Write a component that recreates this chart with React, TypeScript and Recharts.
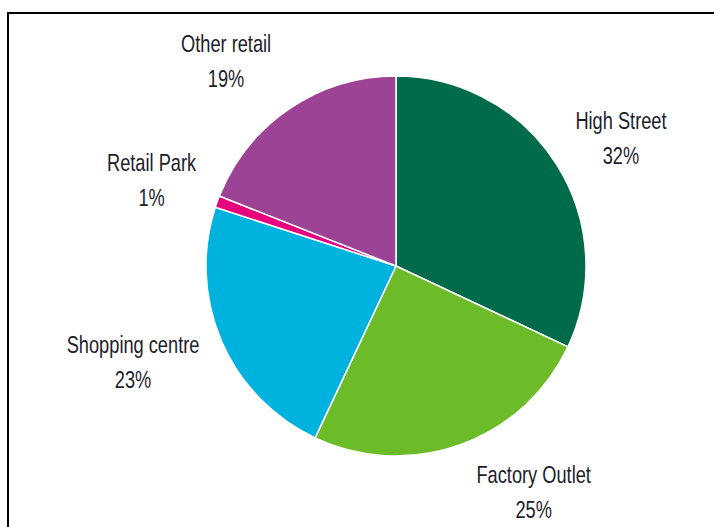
import React from 'react';
import { PieChart, Pie, Cell } from 'recharts';

const CATEGORIES = ['High Street', 'Factory Outlet', 'Shopping centre', 'Retail Park', 'Other retail'];
const SHARES = [32, 25, 23, 1, 19];
const COLORS = ['#006B4A', '#6CBB28', '#00B2DE', '#E5007D', '#9D4395'];

// label placement: angle nudge (deg, clockwise) and distance from centre
const LABEL_NUDGE: Record<string, [number, number]> = {
  'High Street': [2.7, 259],
  'Factory Outlet': [-11.5, 265],
  'Shopping centre': [3.3, 280],
  'Retail Park': [-0.5, 259],
  'Other retail': [-5.5, 266],
};

const data = CATEGORIES.map((name, i) => ({ name, value: SHARES[i] }));

const RAD = Math.PI / 180;

const renderLabel = (props: any) => {
  const { cx, cy, midAngle, name, value } = props;
  const [dA, r] = LABEL_NUDGE[name] ?? [0, 262];
  const theta = (90 - midAngle + dA) * RAD; // clockwise from 12 o'clock
  const x = cx + r * Math.sin(theta);
  const y = cy - r * Math.cos(theta);
  return (
    <text
      transform={`translate(${x},${y}) scale(0.76,1)`}
      textAnchor="middle"
      fill="#1d1d2b"
      fontFamily="'Liberation Sans', Arial, sans-serif"
      fontSize={24}
    >
      <tspan x={0} y={-9}>{name}</tspan>
      <tspan x={0} y={26}>{value}%</tspan>
    </text>
  );
};

const App: React.FC = () => {
  return (
    <div
      style={{
        position: 'absolute',
        left: 0,
        top: 0,
        width: 714,
        height: 527,
        overflow: 'hidden',
        background: '#fff',
      }}
    >
      <div
        style={{
          position: 'absolute',
          left: 7,
          top: 12,
          width: 740,
          height: 560,
          border: '2px solid #000',
        }}
      />
      <div style={{ position: 'absolute', left: 0, top: 0 }}>
        <PieChart width={714} height={527} margin={{ top: 0, right: 0, bottom: 0, left: 0 }}>
          <Pie
            data={data}
            dataKey="value"
            nameKey="name"
            cx={396}
            cy={266}
            outerRadius={190}
            startAngle={90}
            endAngle={-270}
            stroke="#fff"
            strokeWidth={1.5}
            label={renderLabel}
            labelLine={false}
            isAnimationActive={false}
          >
            {data.map((d, i) => (
              <Cell key={d.name} fill={COLORS[i]} />
            ))}
          </Pie>
        </PieChart>
      </div>
    </div>
  );
};

export default App;
